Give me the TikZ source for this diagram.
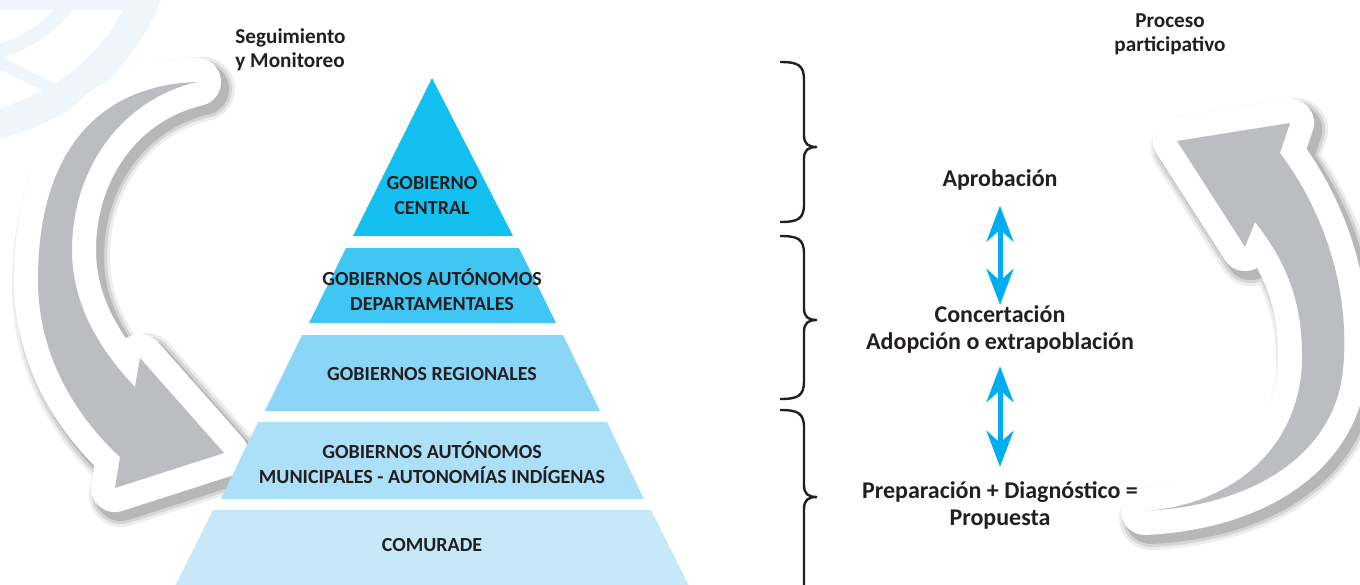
\documentclass[tikz,border=0pt]{standalone}
\usepackage{fontspec}
\setmainfont{Carlito}
\usetikzlibrary{arrows.meta}

\definecolor{tierA}{RGB}{19,192,240}
\definecolor{tierB}{RGB}{64,198,242}
\definecolor{tierC}{RGB}{139,214,246}
\definecolor{tierD}{RGB}{172,224,248}
\definecolor{tierE}{RGB}{199,232,248}
\definecolor{txtgray}{RGB}{35,31,32}
\definecolor{arrowgray}{RGB}{188,189,192}
\definecolor{cyanarrow}{RGB}{0,174,239}
\definecolor{wmblue}{RGB}{238,246,252}

\newcommand{\stickerarrow}[1]{%
  \foreach \w/\o in {32/0.07,29/0.1,26/0.14}
    \path[fill=black,draw=black,opacity=\o,line width=\w pt,line join=round,shift={(6,7)}] #1;
  \path[fill=white,draw=white,line width=24pt,line join=round] #1;
  \path[fill=arrowgray] #1;}

\newcommand{\sidebrace}[3]{%
  \draw[bracestyle] (780,#1) .. controls (798,#1) and (804,#1+3) .. (804,#1+18)
    -- (804,#2-12) .. controls (804,#2-3) and (808,#2) .. (817,#2)
    .. controls (808,#2) and (804,#2+3) .. (804,#2+12)
    -- (804,#3-18) .. controls (804,#3-3) and (798,#3) .. (780,#3);}

\begin{document}
\begin{tikzpicture}[x=0.5pt,y=-0.5pt,
  tierlabel/.style={align=center,inner sep=0,text=txtgray,font=\fontsize{10}{12.5}\selectfont\bfseries},
  steplabel/.style={align=center,inner sep=0,text=txtgray,font=\fontsize{12}{13.5}\selectfont\bfseries},
  headlabel/.style={inner sep=0,text=txtgray,font=\fontsize{10.6}{12}\selectfont\bfseries},
  dblarrow/.style={<->,>={Stealth[length=18pt,width=13.5pt,inset=6pt]},line width=2.5pt,draw=cyanarrow},
  bracestyle/.style={line width=1.2pt,draw=txtgray}]
\clip (0,0) rectangle (1360,584);

\fill[wmblue] (0,0) rectangle (150,10);
\draw[wmblue,line width=15pt] (147,-5) .. controls (120,60) and (70,105) .. (-5,125);
\draw[wmblue,line width=7pt] (72,0) .. controls (50,28) and (25,45) .. (-5,52);
\draw[wmblue,line width=6pt] (-5,60) -- (58,92);

\stickerarrow{(197,82) .. controls (100,85) and (38,150) .. (38,280) .. controls (38,360) and (80,420) .. (120,457) -- (115,488) -- (224,453) -- (140,358) -- (135,387) .. controls (95,345) and (72,300) .. (72,250) .. controls (72,170) and (120,100) .. (197,82) -- cycle}
\stickerarrow{(1145,511) .. controls (1230,505) and (1300,450) .. (1302,360) .. controls (1303,300) and (1285,260) .. (1255,222) -- (1245,247) -- (1177,141) -- (1290,123) -- (1280,153) .. controls (1330,220) and (1350,300) .. (1343,370) .. controls (1335,450) and (1260,505) .. (1145,511) -- cycle}

\fill[tierA] (432,78) -- (513,236) -- (353,236) -- cycle;
\fill[tierB] (346,248) -- (519,248) -- (556,323) -- (309,323) -- cycle;
\fill[tierC] (302,335) -- (563,335) -- (600,411) -- (265,411) -- cycle;
\fill[tierD] (258,422) -- (607,422) -- (644,499) -- (221,499) -- cycle;
\fill[tierE] (213,510) -- (651,510) -- (691,590) -- (173,590) -- cycle;

\node[tierlabel] (central) at (432,196) {GOBIERNO\\CENTRAL};
\node[tierlabel] (departamental) at (432,290) {GOBIERNOS AUTÓNOMOS\\DEPARTAMENTALES};
\node[tierlabel] (regional) at (432,374) {GOBIERNOS REGIONALES};
\node[tierlabel] (municipal) at (432,463) {GOBIERNOS AUTÓNOMOS\\MUNICIPALES - AUTONOMÍAS INDÍGENAS};
\node[tierlabel] (comurade) at (432,545) {COMURADE};

\node[headlabel,anchor=west,align=left] (seguimiento) at (235,50) {Seguimiento\\y Monitoreo};
\node[headlabel,align=center] (proceso) at (1170,34) {Proceso\\participativo};

\sidebrace{62}{147}{222}
\sidebrace{236}{320}{399}
\sidebrace{410}{497}{610}

\node[steplabel] (aprobacion) at (1000,180) {Aprobación};
\node[steplabel] (concertacion) at (1000,329) {Concertación\\Adopción o extrapoblación};
\node[steplabel] (preparacion) at (1000,505) {Preparación + Diagnóstico =\\Propuesta};

\path (aprobacion) edge[dblarrow,shorten <=7.5pt] (concertacion)
      (concertacion) edge[dblarrow,shorten <=6.5pt,shorten >=7pt] (preparacion);
\end{tikzpicture}
\end{document}
